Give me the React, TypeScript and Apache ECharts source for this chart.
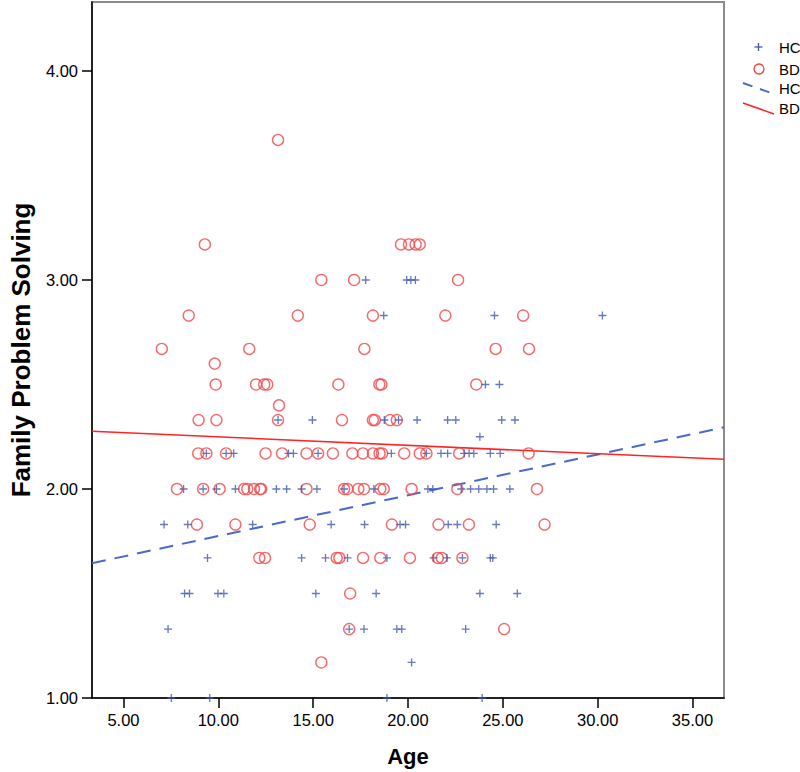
import React, { useEffect, useRef } from "react";
import * as echarts from "echarts";

// HC (healthy controls) points: [age, family problem solving]
const hcPoints: [number, number][] = [
  [7.52, 1.0], [9.55, 1.0], [18.89, 1.0], [23.91, 1.0],
  [20.19, 1.17],
  [7.35, 1.33], [16.9, 1.33], [17.68, 1.33], [19.41, 1.33], [19.67, 1.33], [23.04, 1.33],
  [8.22, 1.5], [8.48, 1.5], [9.98, 1.5], [10.29, 1.5], [15.14, 1.5], [18.32, 1.5], [23.79, 1.5], [25.76, 1.5],
  [9.43, 1.67], [14.39, 1.67], [15.65, 1.67], [16.81, 1.67], [18.89, 1.67], [21.35, 1.67], [22.05, 1.67], [22.87, 1.67], [24.34, 1.67], [24.47, 1.67],
  [7.14, 1.83], [8.39, 1.83], [11.81, 1.83], [15.95, 1.83], [17.71, 1.83], [19.58, 1.83], [19.87, 1.83], [22.12, 1.83], [22.6, 1.83], [24.65, 1.83],
  [8.17, 2.0], [9.2, 2.0], [9.9, 2.0], [10.9, 2.0], [13.06, 2.0], [13.6, 2.0], [14.39, 2.0], [15.2, 2.0], [16.63, 2.0], [18.2, 2.0],
  [21.05, 2.0], [21.31, 2.0], [22.81, 2.0], [23.3, 2.0], [23.73, 2.0], [24.16, 2.0], [24.51, 2.0], [25.37, 2.0],
  [9.37, 2.17], [10.41, 2.17], [10.81, 2.17], [13.7, 2.17], [13.96, 2.17], [15.26, 2.17], [19.12, 2.17], [20.97, 2.17],
  [21.74, 2.17], [22.09, 2.17], [22.96, 2.17], [23.22, 2.17], [23.47, 2.17], [24.34, 2.17], [24.86, 2.17],
  [23.79, 2.25],
  [13.15, 2.33], [14.96, 2.33], [18.75, 2.33], [19.5, 2.33], [20.48, 2.33], [22.09, 2.33], [22.52, 2.33], [24.94, 2.33], [25.64, 2.33],
  [24.08, 2.5], [24.82, 2.5],
  [18.72, 2.83], [24.56, 2.83], [30.25, 2.83],
  [17.77, 3.0], [19.93, 3.0], [20.15, 3.0], [20.39, 3.0],
];

// BD points
const bdPoints: [number, number][] = [
  [15.43, 1.17],
  [16.9, 1.33], [25.07, 1.33],
  [16.95, 1.5],
  [12.16, 1.67], [12.46, 1.67], [16.24, 1.67], [16.38, 1.67], [17.63, 1.67], [18.54, 1.67], [20.1, 1.67], [21.57, 1.67], [21.78, 1.67], [22.87, 1.67],
  [8.87, 1.83], [10.9, 1.83], [14.82, 1.83], [19.15, 1.83], [21.61, 1.83], [23.21, 1.83], [27.2, 1.83],
  [7.82, 2.0], [9.2, 2.0], [10.07, 2.0], [11.36, 2.0], [11.53, 2.0], [11.88, 2.0], [12.2, 2.0], [12.26, 2.0], [14.65, 2.0],
  [16.63, 2.0], [16.8, 2.0], [17.38, 2.0], [17.68, 2.0], [18.54, 2.0], [18.72, 2.0], [20.19, 2.0], [22.6, 2.0], [26.8, 2.0],
  [8.94, 2.17], [9.37, 2.17], [10.41, 2.17], [12.49, 2.17], [13.36, 2.17], [14.65, 2.17], [15.26, 2.17], [16.04, 2.17], [17.07, 2.17],
  [17.62, 2.17], [18.15, 2.17], [18.5, 2.17], [18.63, 2.17], [19.8, 2.17], [20.62, 2.17], [20.97, 2.17], [22.7, 2.17], [26.36, 2.17],
  [8.96, 2.33], [9.9, 2.33], [13.15, 2.33], [16.52, 2.33], [18.15, 2.33], [18.25, 2.33], [19.06, 2.33], [19.41, 2.33],
  [13.2, 2.4],
  [9.86, 2.5], [11.99, 2.5], [12.42, 2.5], [12.58, 2.5], [16.33, 2.5], [18.49, 2.5], [18.6, 2.5], [23.6, 2.5],
  [9.81, 2.6],
  [7.02, 2.67], [11.63, 2.67], [17.7, 2.67], [24.62, 2.67], [26.38, 2.67],
  [8.44, 2.83], [14.19, 2.83], [18.15, 2.83], [21.97, 2.83], [26.07, 2.83],
  [15.43, 3.0], [17.16, 3.0], [22.64, 3.0],
  [9.29, 3.17], [19.63, 3.17], [20.05, 3.17], [20.4, 3.17], [20.62, 3.17],
  [13.15, 3.67],
];

// Linear fit lines (endpoints at the axis extent)
const hcFit: [number, number][] = [[3.34, 1.645], [36.66, 2.295]];
const bdFit: [number, number][] = [[3.34, 2.276], [36.66, 2.142]];

const xTicks = [5, 10, 15, 20, 25, 30, 35];
const yTicks = [1, 2, 3, 4];
const xRange = [3.34, 36.66];
const yRange = [1, 4.33];

const legendLabels = ["HC", "BD", "HC", "BD"];

const BLUE = "#3e58ac";
const RED = "#f0474a";
const FIT_BLUE = "#4a6acb";
const FIT_RED = "#ff2424";
const FONT = "Liberation Sans";

export default function App() {
  const ref = useRef<HTMLDivElement>(null);

  useEffect(() => {
    if (!ref.current) return;
    const chart = echarts.init(ref.current, undefined, { renderer: "svg" });
    const tx = 779;
    const legendY = [47, 69, 88, 108];
    chart.setOption({
      animation: false,
      backgroundColor: "#ffffff",
      textStyle: { fontFamily: FONT },
      grid: {
        left: 82,
        right: 76,
        top: 2,
        bottom: 73,
        show: true,
        borderColor: "#8c8c8c",
        borderWidth: 2,
        backgroundColor: "transparent",
      },
      xAxis: {
        type: "value",
        min: xRange[0],
        max: xRange[1],
        name: "Age",
        nameLocation: "middle",
        nameGap: 47,
        nameTextStyle: { fontFamily: FONT, fontSize: 22, fontWeight: "bold", color: "#000" },
        axisLine: { show: true, onZero: false, lineStyle: { color: "#000", width: 1.5 } },
        axisTick: { show: true, inside: false, length: 10, customValues: xTicks, lineStyle: { color: "#000", width: 1.5 } },
        axisLabel: {
          customValues: xTicks,
          margin: 13,
          fontSize: 16.5,
          color: "#000",
          fontFamily: FONT,
          formatter: (v: number) => v.toFixed(2),
        },
        splitLine: { show: false },
      },
      yAxis: {
        type: "value",
        min: yRange[0],
        max: yRange[1],
        name: "Family Problem Solving",
        nameLocation: "middle",
        nameGap: 58,
        nameTextStyle: { fontFamily: FONT, fontSize: 26, fontWeight: "bold", color: "#000" },
        axisLine: { show: true, onZero: false, lineStyle: { color: "#000", width: 1.5 } },
        axisTick: { show: true, inside: false, length: 10, customValues: yTicks, lineStyle: { color: "#000", width: 1.5 } },
        axisLabel: {
          customValues: yTicks,
          margin: 14,
          fontSize: 16.5,
          color: "#000",
          fontFamily: FONT,
          formatter: (v: number) => v.toFixed(2),
        },
        splitLine: { show: false },
      },
      series: [
        {
          name: "HC fit",
          type: "line",
          data: hcFit,
          symbol: "none",
          lineStyle: { color: FIT_BLUE, width: 2, type: [14, 9] },
          z: 1,
        },
        {
          name: "BD fit",
          type: "line",
          data: bdFit,
          symbol: "none",
          lineStyle: { color: FIT_RED, width: 1.6 },
          z: 1,
        },
        {
          name: "BD",
          type: "scatter",
          data: bdPoints,
          symbol: "circle",
          symbolSize: 11,
          itemStyle: { color: "rgba(0,0,0,0)", borderColor: RED, borderWidth: 1.4 },
          z: 2,
        },
        {
          name: "HC",
          type: "scatter",
          data: hcPoints,
          symbol: "path://M4,0L4,8M0,4L8,4",
          symbolSize: 8,
          itemStyle: { color: BLUE, borderColor: BLUE, borderWidth: 1.3 },
          z: 3,
        },
      ],
      graphic: [
        // legend markers
        { type: "line", shape: { x1: 754.5, y1: 47, x2: 762.5, y2: 47 }, style: { stroke: BLUE, lineWidth: 1.3 } },
        { type: "line", shape: { x1: 758.5, y1: 43, x2: 758.5, y2: 51 }, style: { stroke: BLUE, lineWidth: 1.3 } },
        { type: "circle", shape: { cx: 759, cy: 69, r: 5 }, style: { fill: "none", stroke: RED, lineWidth: 1.4 } },
        { type: "line", shape: { x1: 743, y1: 83, x2: 774, y2: 94 }, style: { stroke: FIT_BLUE, lineWidth: 2, lineDash: [10, 8] } },
        { type: "line", shape: { x1: 743, y1: 103, x2: 774, y2: 114 }, style: { stroke: FIT_RED, lineWidth: 1.6 } },
        ...legendLabels.map((t, i) => ({
          type: "text",
          x: tx,
          y: legendY[i],
          style: { text: t, fontFamily: FONT, fontSize: 15, fill: "#000", verticalAlign: "middle", align: "left" },
        })),
      ],
    });
    return () => chart.dispose();
  }, []);

  return (
    <div
      ref={ref}
      style={{ position: "fixed", left: 0, top: 0, width: 800, height: 772, background: "#fff" }}
    />
  );
}
